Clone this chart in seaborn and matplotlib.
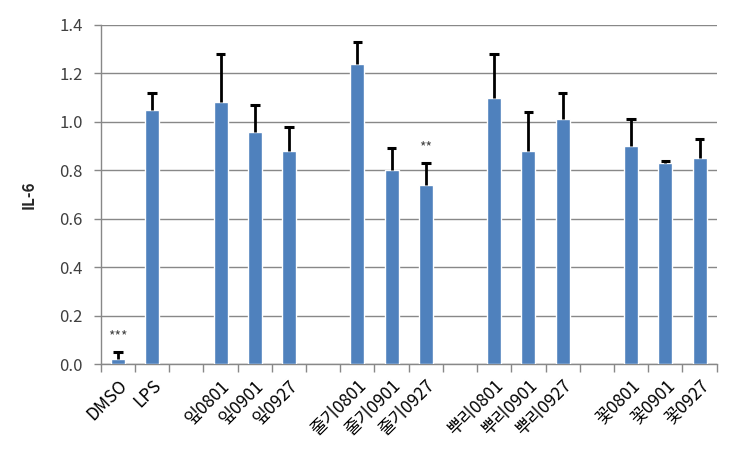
import matplotlib
matplotlib.use("Agg")
import matplotlib.pyplot as plt
import seaborn as sns
import pandas as pd
import numpy as np

categories = ["DMSO", "LPS", " ", "잎0801", "잎0901", "잎0927", "  ",
              "줄기0801", "줄기0901", "줄기0927", "   ",
              "뿌리0801", "뿌리0901", "뿌리0927", "    ",
              "꽃0801", "꽃0901", "꽃0927"]
bar_labels = ["DMSO", "LPS", "잎0801", "잎0901", "잎0927",
              "줄기0801", "줄기0901", "줄기0927",
              "뿌리0801", "뿌리0901", "뿌리0927",
              "꽃0801", "꽃0901", "꽃0927"]
values = [0.02, 1.05, 1.08, 0.96, 0.88, 1.24, 0.80, 0.74, 1.10, 0.88, 1.01, 0.90, 0.83, 0.85]
errors = [0.03, 0.07, 0.20, 0.11, 0.10, 0.09, 0.09, 0.09, 0.18, 0.16, 0.11, 0.11, 0.01, 0.08]
sig_labels = {"DMSO": "***", "줄기0927": "**"}
yticks = [0.0, 0.2, 0.4, 0.6, 0.8, 1.0, 1.2, 1.4]

sns.set_theme(style="white")
plt.rcParams['font.family'] = ['Noto Sans CJK KR', 'DejaVu Sans']

df = pd.DataFrame({"cat": bar_labels, "val": values})
fig = plt.figure(figsize=(7.52, 4.61), dpi=100)
ax = fig.add_axes([0.134, 0.210, 0.819, 0.736])
sns.barplot(data=df, x="cat", y="val", order=categories, color="#4F81BD",
            saturation=1, width=0.41, errorbar=None, ax=ax, zorder=3)

pos = np.array([categories.index(c) for c in bar_labels], dtype=float)
vals = np.array(values)
errs = np.array(errors)
tops = vals + errs
ax.vlines(pos, vals, tops, color="black", linewidth=2, zorder=4)
ax.hlines(tops, pos - 0.14, pos + 0.14, color="black", linewidth=2.2, zorder=4)

for c, s in sig_labels.items():
    i = bar_labels.index(c)
    ax.text(pos[i], tops[i] + 0.035, s, ha="center", va="bottom",
            fontsize=10, color="#444444", zorder=5)

ax.set_xlim(-0.5, len(categories) - 0.5)
ax.set_ylim(0, 1.4)
ax.set_yticks(yticks)
ax.set_yticklabels([f"{t:.1f}" for t in yticks], fontsize=12, color="#404040")
ax.set_xticks(range(len(categories)))
ax.set_xticklabels(categories, rotation=45, ha="right", rotation_mode="anchor",
                   fontsize=12.5, color="black")
ax.tick_params(axis="x", which="major", length=0, pad=9)
ax.set_xticks(np.arange(-0.5, len(categories), 1.0), minor=True)
ax.tick_params(axis="x", which="minor", length=6, color="#888888", width=1, bottom=True)
ax.tick_params(axis="y", length=5, color="#888888", width=1, left=True, pad=8)

ax.yaxis.grid(True, color="#888888", linewidth=1, zorder=0)
ax.set_axisbelow(True)
for s in ["top", "right"]:
    ax.spines[s].set_visible(False)
for s in ["left", "bottom"]:
    ax.spines[s].set_color("#888888")
    ax.spines[s].set_linewidth(1)

ax.set_xlabel("")
ax.set_ylabel("IL-6", fontsize=11, fontweight="bold", labelpad=16)

fig.savefig("out.png", dpi=100)
